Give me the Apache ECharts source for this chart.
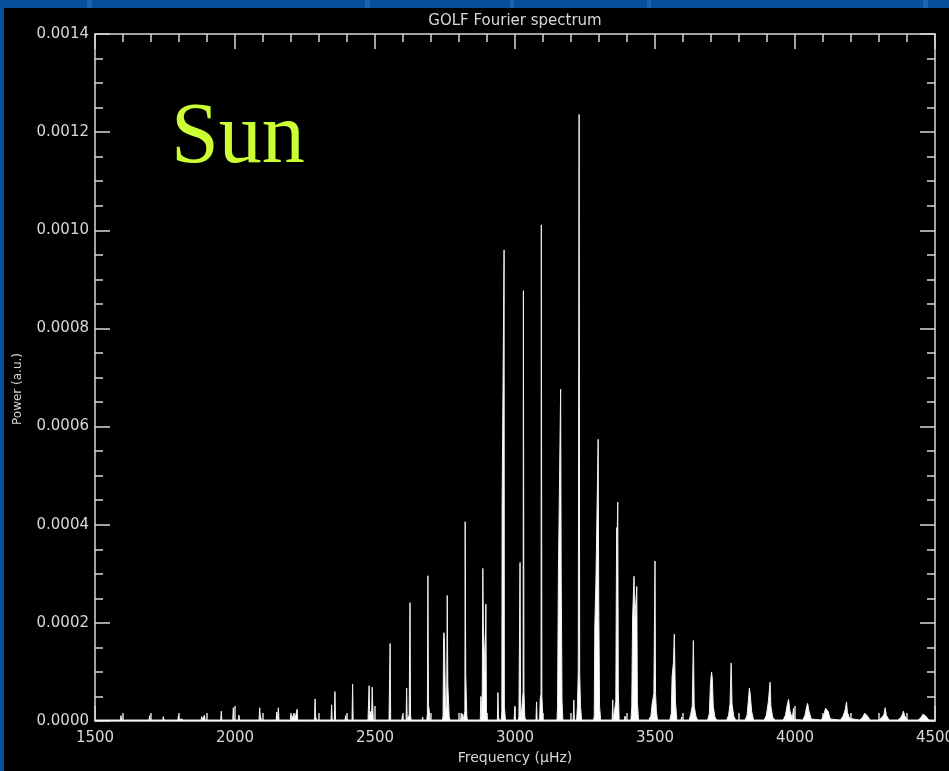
<!DOCTYPE html>
<html>
<head>
<meta charset="utf-8">
<script src="https://cdn.jsdelivr.net/npm/echarts@6/dist/echarts.min.js"></script>
<style>
html,body{margin:0;padding:0;background:#0a4f9c;}
#c{width:949px;height:771px;}
</style>
</head>
<body>
<div id="c"></div>
<script>
// ---- data ----
const chartTitle = "GOLF Fourier spectrum";
const xAxisName = "Frequency (\u03bcHz)";
const yAxisName = "Power (a.u.)";
const starLabel = "Sun";
const xRange = [1500, 4500];
const yRange = [0, 0.0014];
const xStep = 500;
const yStep = 0.0002;

// [frequency (µHz), power (a.u.)]
const lowFreqPart = [
[1500,2e-6],[1527,2e-6],[1529,5e-6],[1531,2e-6],[1543,2e-6],[1545,5e-6],[1547,2e-6],
[1591,2e-6],[1593,11e-6],[1595,2e-6],[1608,2e-6],[1610,6e-6],[1612,2e-6],
[1677,2e-6],[1679,5e-6],[1681,2e-6],[1693,2e-6],[1695,11e-6],[1697,2e-6],
[1742,2e-6],[1744,9e-6],[1746,2e-6],[1796,2e-6],[1798,11e-6],[1800,2e-6],
[1806,2e-6],[1808,4e-6],[1810,2e-6],[1816,2e-6],[1818,5e-6],[1820,2e-6],[1837,2e-6],[1839,4e-6],[1841,2e-6],
[1879,2e-6],[1881,9e-6],[1883,2e-6],[1889,2e-6],[1891,12e-6],[1893,2e-6],
[1938,2e-6],[1940,5e-6],[1942,2e-6],[1949,2e-6],[1951,20e-6],[1953,2e-6],
[1992,2e-6],[1994,27e-6],[1996,2e-6],[2012,2e-6],[2014,12e-6],[2016,2e-6],
[2073,2e-6],[2075,5e-6],[2077,2e-6],[2086,2e-6],[2088,27e-6],[2090,12e-6],[2092,12e-6],[2094,2e-6],
[2147,2e-6],[2149,18e-6],[2151,2e-6],[2153,2e-6],[2155,27e-6],[2157,2e-6],
[2198,2e-6],[2200,12e-6],[2202,2e-6],[2209,2e-6],[2211,16e-6],[2213,2e-6],[2220,2e-6],[2222,24e-6],[2224,2e-6],
[2284,2e-6],[2286,45e-6],[2288,9e-6],[2291,2e-6],
[2343,2e-6],[2345,33e-6],[2347,2e-6],[2355,2e-6],[2357,60e-6],[2359,2e-6],
[2393,2e-6],[2395,11e-6],[2397,4e-6],[2404,4e-6],[2406,2e-6],
[2418,2e-6],[2420,75e-6],[2422,2e-6],
[2475,2e-6],[2477,6e-6],[2479,72e-6],[2481,12e-6],[2486,20e-6],[2488,12e-6],[2490,69e-6],[2492,30e-6],[2494,2e-6],
[2528,2e-6],[2530,4e-6],[2532,2e-6]
];

const midFreqPart = [
[2550,2e-6],[2552,6e-6],[2554,158e-6],[2556,2e-6],
[2596,2e-6],[2598,12e-6],[2600,2e-6],[2611,2e-6],[2613,67e-6],[2615,2e-6],
[2620,2e-6],[2622,12e-6],[2625,241e-6],[2627,12e-6],[2629,2e-6],
[2668,2e-6],[2670,8e-6],[2672,2e-6],[2676,6e-6],[2678,2e-6],
[2685,2e-6],[2687,15e-6],[2689,296e-6],[2691,33e-6],[2694,20e-6],[2696,2e-6],
[2741,2e-6],[2743,10e-6],[2745,165e-6],[2746,180e-6],[2748,165e-6],[2752,20e-6],[2756,30e-6],[2758,256e-6],[2760,75e-6],[2763,73e-6],[2765,8e-6],[2768,2e-6],
[2806,2e-6],[2808,16e-6],[2810,2e-6],[2813,14e-6],[2815,2e-6],
[2819,2e-6],[2821,20e-6],[2822,406e-6],[2824,94e-6],[2826,94e-6],[2828,10e-6],[2830,2e-6],
[2876,2e-6],[2878,50e-6],[2880,8e-6],[2883,60e-6],[2885,311e-6],[2887,195e-6],[2891,195e-6],[2893,100e-6],[2896,238e-6],[2898,20e-6],[2901,2e-6],
[2937,2e-6],[2939,58e-6],[2941,10e-6],[2943,2e-6],
[2951,2e-6],[2953,20e-6],[2954,444e-6],[2959,444e-6],[2961,960e-6],[2962,30e-6],[2966,2e-6],
[2997,2e-6],[2999,27e-6],[3001,2e-6],
[3012,2e-6],[3014,10e-6],[3018,323e-6],[3020,30e-6],[3022,8e-6],
[3025,8e-6],[3027,45e-6],[3029,60e-6],[3030,877e-6],[3032,60e-6],[3035,8e-6],[3038,2e-6],
[3075,2e-6],[3077,39e-6],[3079,2e-6],
[3088,2e-6],[3090,45e-6],[3093,55e-6],[3094,1011e-6],[3096,50e-6],[3100,2e-6],
[3150,2e-6],[3152,30e-6],[3155,300e-6],[3160,304e-6],[3163,676e-6],[3165,300e-6],[3168,40e-6],[3171,2e-6],
[3208,2e-6],[3210,43e-6],[3212,2e-6],
[3220,2e-6],[3223,30e-6],[3226,100e-6],[3229,1236e-6],[3231,98e-6],[3234,30e-6],[3238,2e-6],
[3281,2e-6],[3283,10e-6],[3285,193e-6],[3289,284e-6],[3294,284e-6],[3297,574e-6],[3299,250e-6],[3302,30e-6],[3306,2e-6],
[3347,2e-6],[3349,43e-6],[3351,2e-6],
[3357,2e-6],[3360,40e-6],[3363,394e-6],[3365,380e-6],[3367,446e-6],[3369,60e-6],[3372,2e-6],
[3391,2e-6],[3393,10e-6],[3395,2e-6],
[3414,2e-6],[3417,30e-6],[3420,210e-6],[3424,210e-6],[3425,295e-6],[3428,210e-6],[3433,210e-6],[3435,274e-6],[3437,40e-6],[3441,2e-6]
];

const highFreqPart = [
[3480,2e-6],[3482,8e-6],[3484,2e-6],
[3487,2e-6],[3490,36e-6],[3493,45e-6],[3496,56e-6],[3499,60e-6],[3500,326e-6],[3502,56e-6],[3505,20e-6],[3509,2e-6],
[3553,2e-6],[3558,15e-6],[3561,90e-6],[3566,120e-6],[3569,177e-6],[3571,110e-6],[3573,40e-6],[3578,2e-6],
[3593,2e-6],[3595,8e-6],[3597,2e-6],
[3622,2e-6],[3628,15e-6],[3633,30e-6],[3637,164e-6],[3640,30e-6],[3646,10e-6],[3652,2e-6],
[3688,2e-6],[3694,15e-6],[3698,75e-6],[3702,100e-6],[3705,85e-6],[3708,30e-6],[3714,8e-6],[3720,2e-6],
[3756,2e-6],[3763,12e-6],[3768,35e-6],[3772,118e-6],[3775,35e-6],[3781,10e-6],[3788,2e-6],
[3822,2e-6],[3829,12e-6],[3834,45e-6],[3837,67e-6],[3840,55e-6],[3845,20e-6],[3852,2e-6],
[3890,2e-6],[3898,12e-6],[3905,40e-6],[3911,79e-6],[3914,30e-6],[3920,8e-6],[3928,2e-6],
[3958,2e-6],[3966,12e-6],[3973,35e-6],[3977,44e-6],[3982,20e-6],[3990,5e-6],[3993,5e-6],[3995,26e-6],[3997,3e-6],
[4028,2e-6],[4036,12e-6],[4042,30e-6],[4045,36e-6],[4050,20e-6],[4058,4e-6],[4064,2e-6],
[4094,2e-6],[4103,12e-6],[4109,26e-6],[4113,29e-6],[4118,20e-6],[4126,4e-6],[4132,2e-6],
[4162,2e-6],[4172,10e-6],[4179,22e-6],[4184,39e-6],[4187,18e-6],[4195,5e-6],[4202,2e-6],
[4232,2e-6],[4242,8e-6],[4249,16e-6],[4253,18e-6],[4259,10e-6],[4268,2e-6],
[4300,2e-6],[4312,8e-6],[4318,14e-6],[4322,27e-6],[4326,12e-6],[4336,2e-6],
[4368,2e-6],[4378,7e-6],[4384,14e-6],[4387,20e-6],[4392,10e-6],[4402,2e-6],
[4440,2e-6],[4450,7e-6],[4457,14e-6],[4461,16e-6],[4467,10e-6],[4478,2e-6],
[4500,2e-6]
];

const spectrum = lowFreqPart.concat(midFreqPart, highFreqPart);

// ---- chart ----
const fg = '#d8d8d8';
const font = 'DejaVu Sans';
const chart = echarts.init(document.getElementById('c'), null, {renderer: 'canvas'});

function mirrorX(pos, show) {
  return {
    type: 'value', position: pos, min: xRange[0], max: xRange[1], interval: xStep,
    axisLine: {show: true, onZero: false, lineStyle: {color: fg, width: 1.5}},
    axisTick: {show: true, inside: true, length: 15, lineStyle: {color: fg, width: 1.5}},
    minorTick: {show: true, splitNumber: 5, length: 8, lineStyle: {color: fg, width: 1.5}},
    axisLabel: {show: show, color: fg, fontFamily: font, fontSize: 15, margin: 10,
      formatter: v => String(v)},
    splitLine: {show: false}
  };
}
function mirrorY(pos, show) {
  return {
    type: 'value', position: pos, min: yRange[0], max: yRange[1], interval: yStep,
    axisLine: {show: true, onZero: false, lineStyle: {color: fg, width: 1.5}},
    axisTick: {show: true, inside: true, length: 15, lineStyle: {color: fg, width: 1.5}},
    minorTick: {show: true, splitNumber: 4, length: 8, lineStyle: {color: fg, width: 1.5}},
    axisLabel: {show: show, color: fg, fontFamily: font, fontSize: 15, margin: 6,
      formatter: v => v.toFixed(4)},
    splitLine: {show: false}
  };
}

const xBottom = mirrorX('bottom', true);
xBottom.name = xAxisName;
xBottom.nameLocation = 'middle';
xBottom.nameGap = 27;
xBottom.nameTextStyle = {color: fg, fontFamily: font, fontSize: 14};

const option = {
  backgroundColor: '#0a4f9c',
  animation: false,
  grid: {left: 95, right: 14, top: 34, bottom: 50, containLabel: false, outerBoundsMode: 'none'},
  xAxis: [xBottom, mirrorX('top', false)],
  yAxis: [mirrorY('left', true), mirrorY('right', false)],
  graphic: [
    // slide background pattern (light blue streaks)
    {type: 'rect', z: -10, shape: {x: 87, y: 0, width: 5, height: 8}, style: {fill: '#1a64b4'}},
    {type: 'rect', z: -10, shape: {x: 365, y: 0, width: 5, height: 8}, style: {fill: '#1a64b4'}},
    {type: 'rect', z: -10, shape: {x: 510, y: 0, width: 4, height: 8}, style: {fill: '#1a64b4'}},
    {type: 'rect', z: -10, shape: {x: 647, y: 0, width: 4, height: 8}, style: {fill: '#1a64b4'}},
    {type: 'rect', z: -10, shape: {x: 923, y: 0, width: 5, height: 8}, style: {fill: '#1a64b4'}},
    {type: 'rect', z: -9, shape: {x: 4, y: 8, width: 945, height: 763}, style: {fill: '#000000'}},
    {type: 'text', z: 10, x: 515, y: 21, style: {text: chartTitle, fill: fg, font: '15px "DejaVu Sans"', textAlign: 'center', textVerticalAlign: 'middle'}},
    {type: 'text', z: 10, x: 18, y: 389, rotation: Math.PI / 2, style: {text: yAxisName, fill: fg, font: '12px "DejaVu Sans"', textAlign: 'center', textVerticalAlign: 'middle'}},
    {type: 'text', z: 10, x: 171, y: 139, style: {text: starLabel, fill: '#ccff33', font: '86px "Liberation Serif"', textAlign: 'left', textVerticalAlign: 'middle'}}
  ],
  series: [{
    type: 'line',
    xAxisIndex: 0, yAxisIndex: 0,
    data: spectrum,
    showSymbol: false,
    symbol: 'none',
    sampling: null,
    lineStyle: {color: '#f0f0f0', width: 1},
    areaStyle: {color: '#ffffff', opacity: 1, origin: 'start'},
    z: 1
  }]
};
chart.setOption(option);
</script>
</body>
</html>
